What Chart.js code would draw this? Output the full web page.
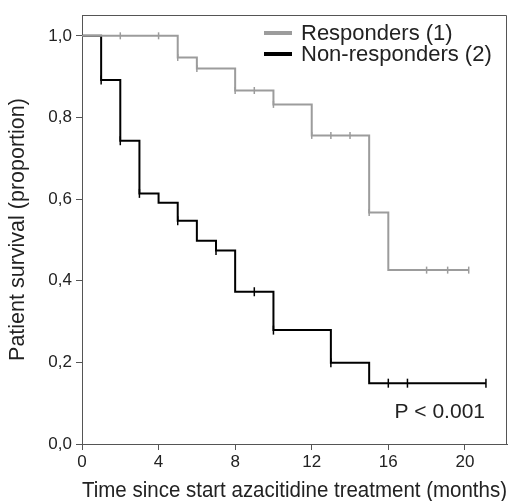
<!DOCTYPE html>
<html>
<head>
<meta charset="utf-8">
<script src="https://cdn.jsdelivr.net/npm/chart.js@4/dist/chart.umd.min.js"></script>
<style>
  body { margin: 0; background: #fff; }
  #wrap { width: 520px; height: 501px; position: relative; }
</style>
</head>
<body>
<div id="wrap"><canvas id="kmChart"></canvas></div>
<script>
// curva de sobrevida (Kaplan-Meier) - respondedores vs não respondedores

const respTimes = [0, 5, 6, 8, 10, 12, 15, 16, 20.2];
const respSurv = [1.0, 0.947, 0.920, 0.866, 0.832, 0.756, 0.567, 0.426, 0.426];
const respCensTimes = [2, 4, 5, 6, 8, 9, 10, 12, 13, 14, 15, 18, 19.1, 20.2];
const respCensSurv = [1.0, 1.0, 0.947, 0.920, 0.866, 0.866, 0.832, 0.756, 0.756, 0.756, 0.567, 0.426, 0.426, 0.426];

const nonTimes = [0, 1, 2, 3, 4, 5, 6, 7, 8, 10, 13, 15, 21.1];
const nonSurv = [1.0, 0.892, 0.743, 0.614, 0.591, 0.547, 0.498, 0.474, 0.373, 0.279, 0.199, 0.149, 0.149];
const nonCensTimes = [1, 2, 3, 5, 7, 9, 10, 13, 16, 17, 21.1];
const nonCensSurv = [0.892, 0.743, 0.614, 0.547, 0.474, 0.373, 0.279, 0.199, 0.149, 0.149, 0.149];

const xTicks = [0, 4, 8, 12, 16, 20];
const yTicks = [0, 0.2, 0.4, 0.6, 0.8, 1.0];
const legendLabels = ['Responders (1)', 'Non-responders (2)'];
const pText = 'P < 0.001';

const grayColor = '#9c9c9c';
const blackColor = '#000000';
const axisColor = '#555555';
const textColor = '#222222';
const fontFamily = "'Liberation Sans', Arial, sans-serif";

function toPoints(xs, ys) {
    return xs.map((x, i) => ({ x: x, y: ys[i] }));
}

// moldura, legenda e valor de p desenhados por cima
const extrasPlugin = {
    id: 'extras',
    afterDraw(chart) {
        const ctx = chart.ctx;
        const area = chart.chartArea;
        ctx.save();
        ctx.strokeStyle = axisColor;
        ctx.lineWidth = 1;
        ctx.beginPath();
        ctx.moveTo(area.left, area.top + 0.5);
        ctx.lineTo(area.right - 0.5, area.top + 0.5);
        ctx.lineTo(area.right - 0.5, area.bottom);
        ctx.stroke();

        const colors = [grayColor, blackColor];
        const rows = [33, 54];
        ctx.font = '22px ' + fontFamily;
        ctx.textBaseline = 'middle';
        ctx.textAlign = 'left';
        legendLabels.forEach((label, i) => {
            ctx.strokeStyle = colors[i];
            ctx.lineWidth = 4;
            ctx.beginPath();
            ctx.moveTo(264, rows[i]);
            ctx.lineTo(292, rows[i]);
            ctx.stroke();
            ctx.fillStyle = textColor;
            ctx.fillText(label, 301, rows[i] + 1);
        });

        const xs = chart.scales.x;
        const ys = chart.scales.y;
        ctx.font = '21px ' + fontFamily;
        ctx.textAlign = 'right';
        ctx.fillText(pText, xs.getPixelForValue(21.05), ys.getPixelForValue(0.077));
        ctx.restore();
    }
};

const ctxEl = document.getElementById('kmChart');

new Chart(ctxEl, {
    type: 'line',
    data: {
        datasets: [
            {
                label: legendLabels[0],
                data: toPoints(respTimes, respSurv),
                borderColor: grayColor,
                borderWidth: 2,
                stepped: true,
                pointRadius: 0,
                fill: false
            },
            {
                label: 'resp-cens',
                data: toPoints(respCensTimes, respCensSurv),
                showLine: false,
                pointStyle: 'line',
                rotation: 90,
                pointRadius: 3.5,
                borderColor: grayColor,
                borderWidth: 1.5
            },
            {
                label: legendLabels[1],
                data: toPoints(nonTimes, nonSurv),
                borderColor: blackColor,
                borderWidth: 2,
                stepped: true,
                pointRadius: 0,
                fill: false
            },
            {
                label: 'non-cens',
                data: toPoints(nonCensTimes, nonCensSurv),
                showLine: false,
                pointStyle: 'line',
                rotation: 90,
                pointRadius: 4.5,
                borderColor: blackColor,
                borderWidth: 1.5
            }
        ]
    },
    options: {
        responsive: true,
        maintainAspectRatio: false,
        animation: false,
        layout: { padding: { top: 15, right: 13, left: 0, bottom: 0 } },
        plugins: {
            legend: { display: false },
            tooltip: { enabled: false }
        },
        scales: {
            x: {
                type: 'linear',
                min: 0,
                max: 22.2,
                afterFit: (scale) => { scale.height = 57; },
                afterBuildTicks: (scale) => { scale.ticks = xTicks.map(v => ({ value: v })); },
                ticks: {
                    color: textColor,
                    font: { family: fontFamily, size: 17 },
                    padding: 2,
                    maxRotation: 0
                },
                grid: { drawOnChartArea: false, drawTicks: true, tickLength: 6, color: axisColor },
                border: { color: axisColor, width: 1 },
                title: {
                    display: true,
                    text: 'Time since start azacitidine treatment (months)',
                    color: textColor,
                    font: { family: fontFamily, size: 21.5, lineHeight: 0.9 },
                    padding: { top: 0, bottom: 0 }
                }
            },
            y: {
                type: 'linear',
                min: 0,
                max: 1.051,
                afterFit: (scale) => { scale.width = 82; },
                afterBuildTicks: (scale) => { scale.ticks = yTicks.map(v => ({ value: v })); },
                ticks: {
                    color: textColor,
                    font: { family: fontFamily, size: 17 },
                    padding: 4,
                    callback: (v) => Number(v).toFixed(1).replace('.', ',')
                },
                grid: { drawOnChartArea: false, drawTicks: true, tickLength: 6, color: axisColor },
                border: { color: axisColor, width: 1 },
                title: {
                    display: true,
                    text: 'Patient survival (proportion)',
                    color: textColor,
                    font: { family: fontFamily, size: 21.5, lineHeight: 1 },
                    padding: { top: 7, bottom: 0 }
                }
            }
        }
    },
    plugins: [extrasPlugin]
});
</script>
</body>
</html>
